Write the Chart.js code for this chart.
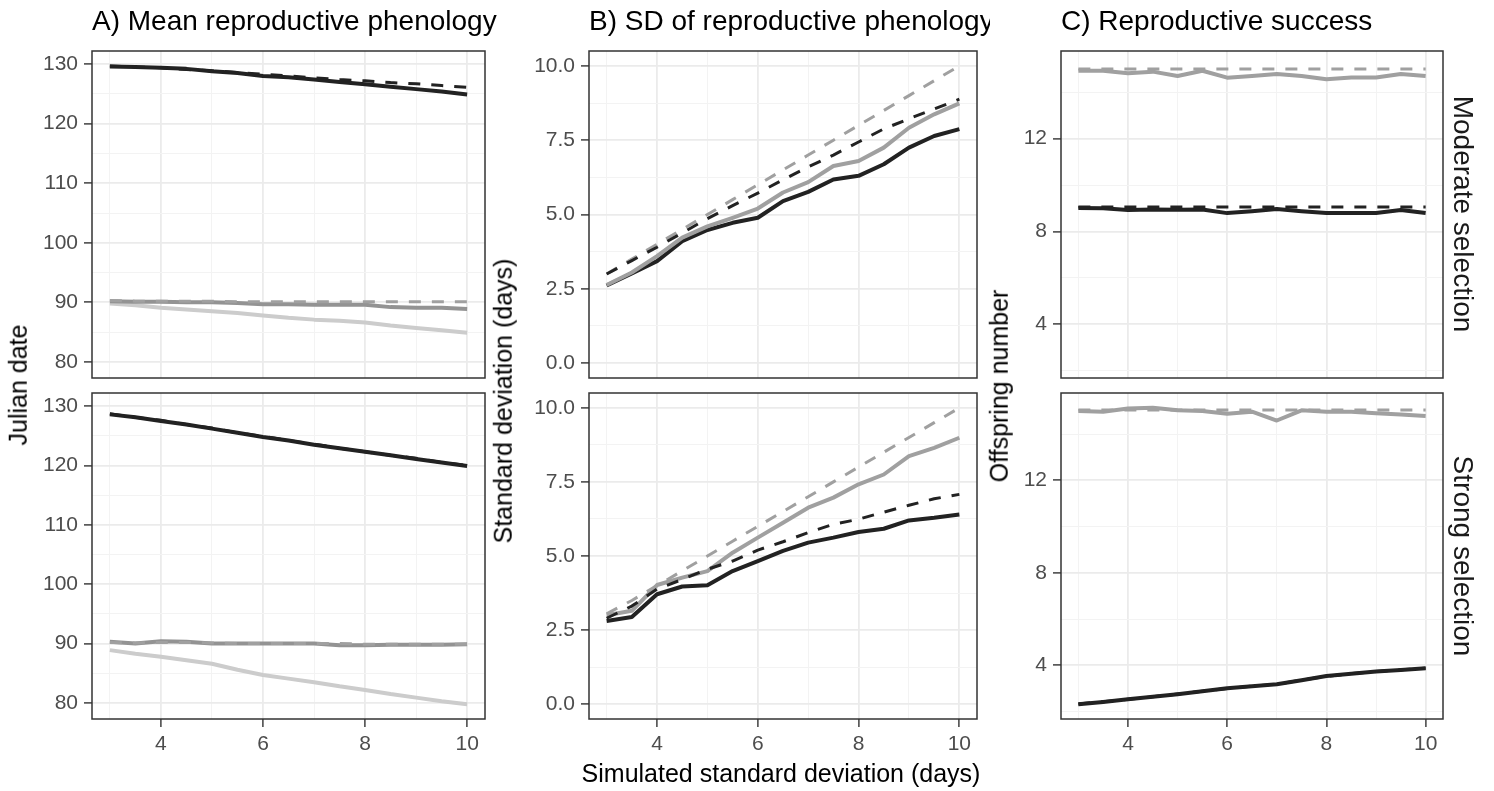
<!DOCTYPE html>
<html>
<head>
<meta charset="utf-8">
<script src="https://cdn.jsdelivr.net/npm/chart.js@4.4.1/dist/chart.umd.min.js"></script>
<style>
  body { margin: 0; background: #fff; width: 1494px; height: 791px; position: relative; overflow: hidden;
         font-family: "Liberation Sans", Arial, sans-serif; }
  .t { position: absolute; white-space: nowrap; color: #000; line-height: 1.3; z-index: 5; }
  .title { font-size: 28px; overflow: hidden; height: 38px; }
  .ylab { font-size: 25px; transform: translate(-50%, -50%) rotate(-90deg); }
  .strip { font-size: 28px; color: #1a1a1a; transform: translate(-50%, -50%) rotate(90deg); }
</style>
</head>
<body>

<div class="t title" style="left:92px;top:3px;width:405px">A) Mean reproductive phenology</div>
<div class="t title" style="left:589px;top:3px;width:401px">B) SD of reproductive phenology</div>
<div class="t title" style="left:1061px;top:3px;width:420px">C) Reproductive success</div>

<div class="t ylab" style="left:18px;top:385px">Julian date</div>
<div class="t ylab" style="left:503px;top:401px">Standard deviation (days)</div>
<div class="t ylab" style="left:999px;top:386px">Offspring number</div>

<div class="t strip" style="left:1463px;top:214px">Moderate selection</div>
<div class="t strip" style="left:1463px;top:556px">Strong selection</div>

<div class="t" style="font-size:25px;left:781px;top:757px;transform:translateX(-50%)">Simulated standard deviation (days)</div>

<script>
// simulated SD of phenology (x axis)
const simSD = [3, 3.5, 4, 4.5, 5, 5.5, 6, 6.5, 7, 7.5, 8, 8.5, 9, 9.5, 10];

// A) mean reproductive phenology (Julian date)
const meanModBlack    = [129.6, 129.5, 129.4, 129.2, 128.8, 128.5, 128.0, 127.8, 127.4, 127.0, 126.6, 126.2, 125.8, 125.4, 124.9];
const meanModBlackExp = [129.7, 129.5, 129.4, 129.1, 128.9, 128.6, 128.3, 128.0, 127.7, 127.4, 127.2, 126.9, 126.7, 126.4, 126.1];
const meanModGray     = [90.2, 90.1, 90.1, 90.0, 90.0, 89.9, 89.7, 89.7, 89.6, 89.6, 89.6, 89.2, 89.1, 89.1, 88.9];
const meanModGrayExp  = [90.3, 90.2, 90.2, 90.2, 90.2, 90.1, 90.1, 90.1, 90.1, 90.1, 90.1, 90.1, 90.1, 90.1, 90.1];
const meanModLight    = [89.8, 89.5, 89.1, 88.8, 88.5, 88.2, 87.8, 87.4, 87.1, 86.9, 86.6, 86.1, 85.7, 85.3, 84.9];

const meanStrBlack    = [128.6, 128.1, 127.5, 126.9, 126.2, 125.5, 124.8, 124.2, 123.5, 122.9, 122.3, 121.7, 121.1, 120.5, 119.9];
const meanStrBlackExp = [128.7, 128.1, 127.6, 126.9, 126.3, 125.5, 124.9, 124.2, 123.6, 122.9, 122.3, 121.7, 121.2, 120.5, 120.0];
const meanStrGray     = [90.3, 90.0, 90.4, 90.3, 90.0, 90.0, 90.0, 90.0, 90.0, 89.7, 89.7, 89.8, 89.8, 89.8, 89.9];
const meanStrGrayExp  = [90.2, 90.1, 90.2, 90.2, 90.1, 90.0, 90.0, 90.0, 90.0, 90.0, 89.9, 89.9, 89.9, 89.9, 89.9];
const meanStrLight    = [88.9, 88.3, 87.8, 87.2, 86.6, 85.6, 84.7, 84.1, 83.5, 82.8, 82.2, 81.5, 80.9, 80.3, 79.8];

// B) SD of reproductive phenology (days)
const sdModBlack    = [2.61, 3.02, 3.43, 4.10, 4.48, 4.72, 4.89, 5.45, 5.76, 6.18, 6.30, 6.69, 7.25, 7.64, 7.87];
const sdModBlackExp = [3.00, 3.45, 3.90, 4.38, 4.86, 5.30, 5.72, 6.17, 6.60, 7.00, 7.44, 7.88, 8.22, 8.55, 8.88];
const sdModGray     = [2.63, 3.05, 3.60, 4.22, 4.60, 4.89, 5.20, 5.74, 6.09, 6.63, 6.80, 7.25, 7.92, 8.37, 8.74];
const sdModGrayExp  = [3.0, 3.5, 4.0, 4.5, 5.0, 5.5, 6.0, 6.5, 7.0, 7.5, 8.0, 8.5, 9.0, 9.5, 10.0];

const sdStrBlack    = [2.81, 2.94, 3.71, 3.97, 4.01, 4.49, 4.83, 5.17, 5.45, 5.62, 5.81, 5.92, 6.20, 6.29, 6.40];
const sdStrBlackExp = [2.90, 3.31, 3.88, 4.21, 4.55, 4.83, 5.20, 5.48, 5.79, 6.07, 6.24, 6.48, 6.71, 6.93, 7.08];
const sdStrGray     = [3.00, 3.15, 4.02, 4.27, 4.49, 5.11, 5.62, 6.12, 6.63, 6.97, 7.42, 7.75, 8.37, 8.65, 8.99];
const sdStrGrayExp  = [3.05, 3.5, 4.0, 4.5, 5.0, 5.5, 6.0, 6.5, 7.0, 7.5, 8.0, 8.5, 9.0, 9.5, 10.0];

// C) reproductive success (offspring number)
const rsModBlack    = [9.01, 9.00, 8.92, 8.95, 8.94, 8.95, 8.79, 8.87, 8.97, 8.87, 8.79, 8.79, 8.79, 8.92, 8.79];
const rsModBlackExp = [9.05, 9.05, 9.05, 9.05, 9.05, 9.05, 9.05, 9.05, 9.05, 9.05, 9.05, 9.05, 9.05, 9.05, 9.05];
const rsModGray     = [14.93, 14.93, 14.82, 14.89, 14.70, 14.93, 14.63, 14.70, 14.79, 14.70, 14.56, 14.64, 14.64, 14.79, 14.70];
const rsModGrayExp  = [15.0, 15.0, 15.0, 15.0, 15.0, 15.0, 15.0, 15.0, 15.0, 15.0, 15.0, 15.0, 15.0, 15.0, 15.0];

const rsStrBlack    = [2.32, 2.42, 2.53, 2.64, 2.75, 2.88, 3.01, 3.10, 3.18, 3.36, 3.54, 3.64, 3.73, 3.80, 3.87];
const rsStrBlackExp = [2.33, 2.43, 2.53, 2.64, 2.76, 2.88, 3.00, 3.10, 3.19, 3.36, 3.53, 3.64, 3.73, 3.81, 3.88];
const rsStrGray     = [15.00, 14.97, 15.11, 15.14, 15.03, 15.00, 14.88, 14.97, 14.59, 15.03, 14.97, 14.97, 14.90, 14.85, 14.78];
const rsStrGrayExp  = [15.05, 15.05, 15.05, 15.05, 15.05, 15.05, 15.05, 15.05, 15.05, 15.05, 15.05, 15.05, 15.05, 15.05, 15.05];

// ticks and axis ranges
const xMajor = [4, 6, 8, 10];
const xMinor = [3, 5, 7, 9];
const xRange = [2.65, 10.35];
const meanYMajor = [80, 90, 100, 110, 120, 130];
const meanYMinor = [85, 95, 105, 115, 125];
const meanRange = [77.3, 132.2];
const sdYMajor = [0, 2.5, 5, 7.5, 10];
const sdYMinor = [1.25, 3.75, 6.25, 8.75];
const sdRange = [-0.5, 10.5];
const rsYMajor = [4, 8, 12];
const rsYMinor = [2, 6, 10, 14];
const rsRange = [1.68, 15.78];

const BLACK = '#222222';
const GRAY = '#a0a0a0';
const MIDGRAY = '#939393';
const LIGHT = '#cccccc';
const FONT = '"Liberation Sans", Arial, sans-serif';

// panel placement on the page
const cols = { A: { x: 92, w: 393 }, B: { x: 589, w: 388 }, C: { x: 1061, w: 382 } };
const rows = { top: { y: 51, h: 327 }, bottom: { y: 393, h: 326 } };

// ggplot-like panel border, drawn over the data
const panelBorder = {
    id: 'panelBorder',
    afterDatasetsDraw(chart) {
        const { ctx, chartArea: a } = chart;
        ctx.save();
        ctx.strokeStyle = '#333333';
        ctx.lineWidth = 1.5;
        ctx.strokeRect(a.left, a.top, a.right - a.left, a.bottom - a.top);
        ctx.restore();
    }
};

function line(values, color, dashed) {
    return { values, color, width: dashed ? 3 : 4, dash: dashed ? [12, 11] : [] };
}

function makePanel(p) {
    const padL = 80, padT = 20, padR = 20;
    const showX = p.row === 'bottom';
    const xH = showX ? 50 : 0;
    const padB = showX ? 0 : 20;
    const cx = cols[p.col], cy = rows[p.row];

    const cv = document.createElement('canvas');
    cv.width = padL + cx.w + padR;
    cv.height = padT + cy.h + xH + padB;
    cv.style.cssText = `position:absolute;left:${cx.x - padL}px;top:${cy.y - padT}px;` +
        `width:${cv.width}px;height:${cv.height}px`;
    document.body.appendChild(cv);

    const xTicks = xMajor.concat(xMinor).sort((a, b) => a - b);
    const yTicks = p.yMajor.concat(p.yMinor).sort((a, b) => a - b);
    const isMajor = (list, c) => c.tick && list.includes(c.tick.value);

    new Chart(cv, {
        type: 'line',
        data: {
            datasets: p.series.map(s => ({
                data: simSD.map((x, i) => ({ x: x, y: s.values[i] })),
                borderColor: s.color,
                borderWidth: s.width,
                borderDash: s.dash,
                borderJoinStyle: 'round',
                pointRadius: 0,
                fill: false,
                tension: 0
            }))
        },
        options: {
            responsive: false,
            animation: false,
            devicePixelRatio: 1,
            layout: { padding: { left: 0, top: padT, right: padR, bottom: padB } },
            plugins: { legend: { display: false }, tooltip: { enabled: false } },
            scales: {
                x: {
                    type: 'linear',
                    min: xRange[0],
                    max: xRange[1],
                    afterBuildTicks: s => { s.ticks = xTicks.map(v => ({ value: v })); },
                    afterFit: s => { s.height = xH; s.paddingLeft = 0; s.paddingRight = 0; },
                    border: { display: false },
                    grid: {
                        color: c => isMajor(xMajor, c) ? '#ebebeb' : '#f3f3f3',
                        lineWidth: c => isMajor(xMajor, c) ? 1.8 : 1,
                        tickColor: c => isMajor(xMajor, c) ? '#333333' : 'rgba(0,0,0,0)',
                        tickWidth: 1.4,
                        tickLength: 8,
                        drawTicks: showX
                    },
                    ticks: {
                        display: showX,
                        autoSkip: false,
                        maxRotation: 0,
                        padding: 5,
                        color: '#4d4d4d',
                        font: { family: FONT, size: 21 },
                        callback: v => xMajor.includes(v) ? String(v) : ''
                    }
                },
                y: {
                    type: 'linear',
                    min: p.range[0],
                    max: p.range[1],
                    afterBuildTicks: s => { s.ticks = yTicks.map(v => ({ value: v })); },
                    afterFit: s => { s.width = padL; s.paddingTop = 0; s.paddingBottom = 0; },
                    border: { display: false },
                    grid: {
                        color: c => isMajor(p.yMajor, c) ? '#ebebeb' : '#f3f3f3',
                        lineWidth: c => isMajor(p.yMajor, c) ? 1.8 : 1,
                        tickColor: c => isMajor(p.yMajor, c) ? '#333333' : 'rgba(0,0,0,0)',
                        tickWidth: 1.4,
                        tickLength: 8
                    },
                    ticks: {
                        autoSkip: false,
                        padding: 6,
                        color: '#4d4d4d',
                        font: { family: FONT, size: 21 },
                        callback: v => p.yMajor.includes(v) ? p.fmt(v) : ''
                    }
                }
            }
        },
        plugins: [panelBorder]
    });
}

const intFmt = v => String(v);
const oneDec = v => v.toFixed(1);

// the first dataset is drawn on top, so dashed lines come first
makePanel({ col: 'A', row: 'top', range: meanRange, yMajor: meanYMajor, yMinor: meanYMinor, fmt: intFmt,
    series: [line(meanModBlackExp, BLACK, true), line(meanModGrayExp, GRAY, true),
             line(meanModBlack, BLACK), line(meanModGray, MIDGRAY), line(meanModLight, LIGHT)] });
makePanel({ col: 'A', row: 'bottom', range: meanRange, yMajor: meanYMajor, yMinor: meanYMinor, fmt: intFmt,
    series: [line(meanStrBlackExp, BLACK, true), line(meanStrGrayExp, GRAY, true),
             line(meanStrBlack, BLACK), line(meanStrGray, MIDGRAY), line(meanStrLight, LIGHT)] });

makePanel({ col: 'B', row: 'top', range: sdRange, yMajor: sdYMajor, yMinor: sdYMinor, fmt: oneDec,
    series: [line(sdModBlackExp, BLACK, true), line(sdModGrayExp, GRAY, true),
             line(sdModGray, GRAY), line(sdModBlack, BLACK)] });
makePanel({ col: 'B', row: 'bottom', range: sdRange, yMajor: sdYMajor, yMinor: sdYMinor, fmt: oneDec,
    series: [line(sdStrBlackExp, BLACK, true), line(sdStrGrayExp, GRAY, true),
             line(sdStrGray, GRAY), line(sdStrBlack, BLACK)] });

makePanel({ col: 'C', row: 'top', range: rsRange, yMajor: rsYMajor, yMinor: rsYMinor, fmt: intFmt,
    series: [line(rsModBlackExp, BLACK, true), line(rsModGrayExp, GRAY, true),
             line(rsModBlack, BLACK), line(rsModGray, GRAY)] });
makePanel({ col: 'C', row: 'bottom', range: rsRange, yMajor: rsYMajor, yMinor: rsYMinor, fmt: intFmt,
    series: [line(rsStrBlackExp, BLACK, true), line(rsStrGrayExp, GRAY, true),
             line(rsStrBlack, BLACK), line(rsStrGray, GRAY)] });
</script>
</body>
</html>
